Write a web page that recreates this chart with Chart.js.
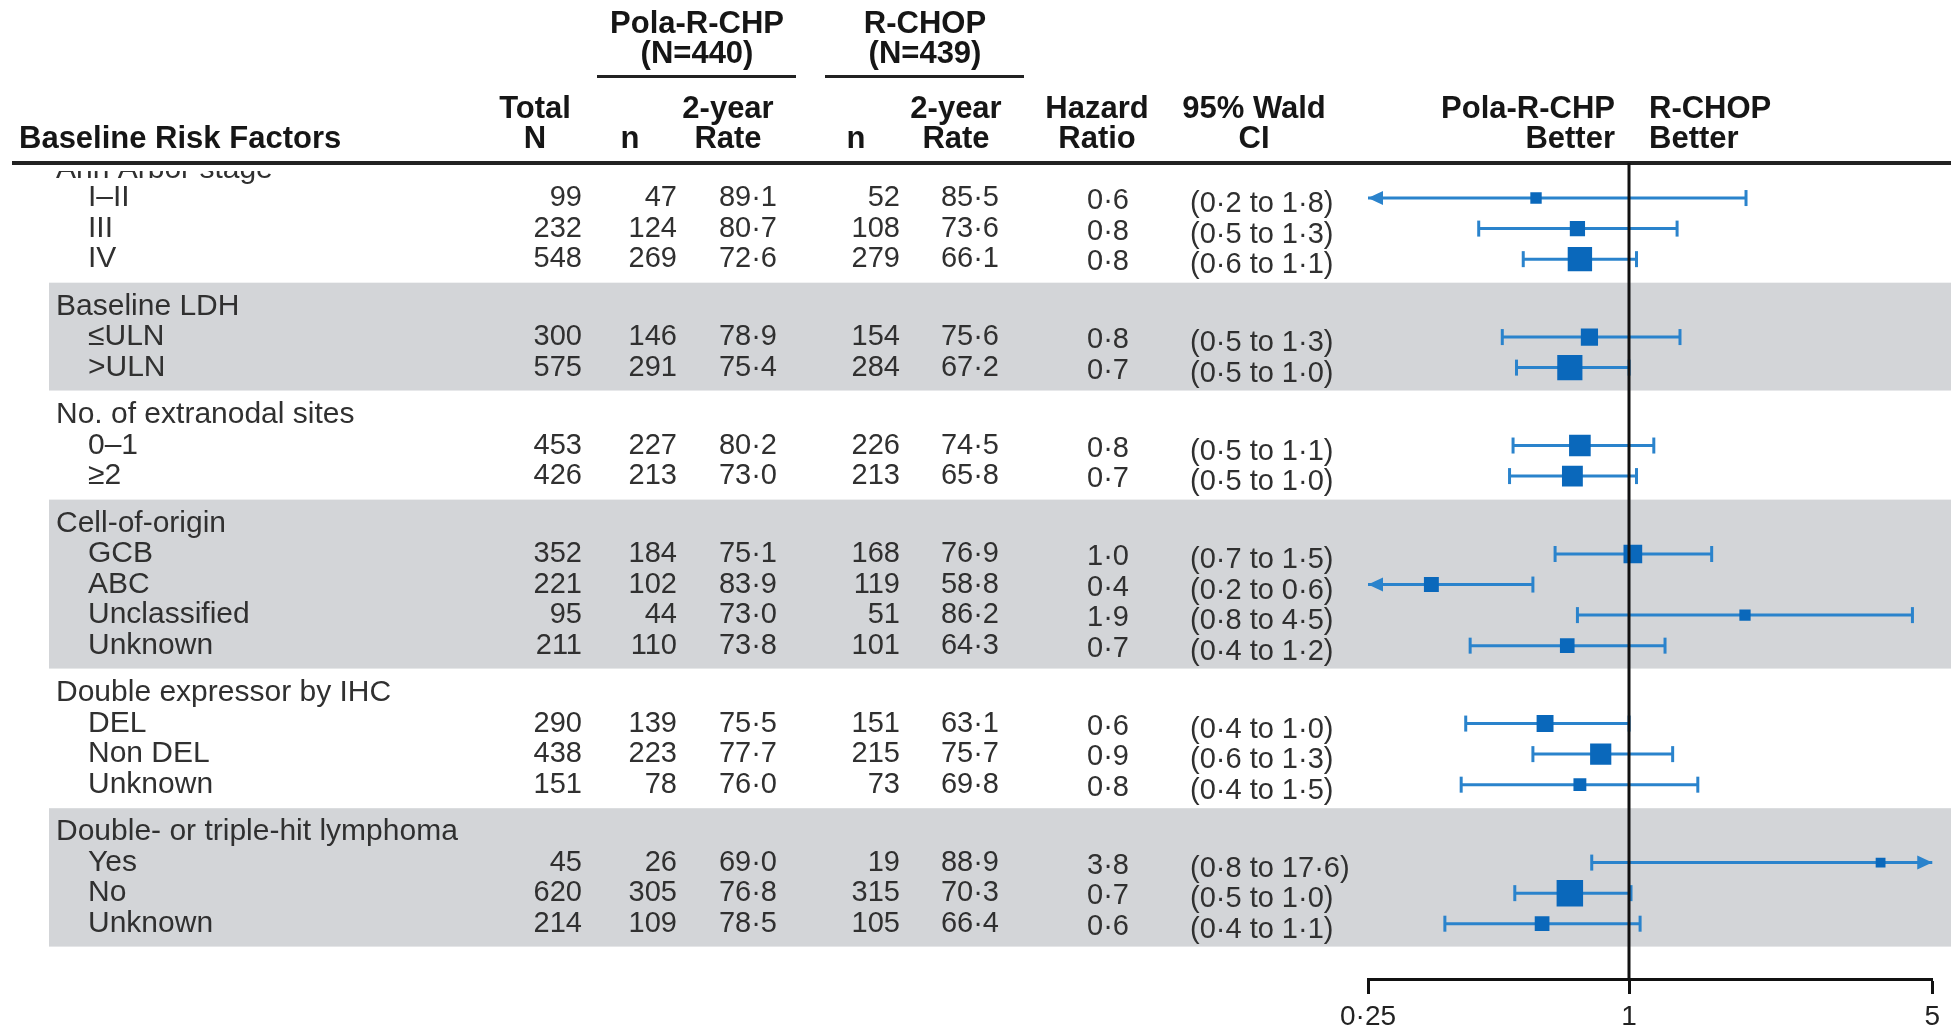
<!DOCTYPE html>
<html lang="en">
<head>
  <meta charset="UTF-8">
  <title>Forest plot – 2-year rate by baseline risk factors</title>
  <script src="https://cdn.jsdelivr.net/npm/chart.js"></script>
  <style>
    html, body { margin:0; padding:0; background:#fff; }
    #wrap { width:1951px; height:1029px; }
  </style>
</head>
<body>
<div id="wrap"><canvas id="forest" width="1951" height="1029"></canvas></div>

<script>
// ---- data ----
const groupNames = ['Ann Arbor stage', 'Baseline LDH', 'No. of extranodal sites', 'Cell-of-origin',
                    'Double expressor by IHC', 'Double- or triple-hit lymphoma'];
const groupSizes = [3, 2, 2, 4, 3, 3];
const rowLabels = ['I–II', 'III', 'IV', '≤ULN', '>ULN', '0–1', '≥2', 'GCB', 'ABC', 'Unclassified', 'Unknown',
                   'DEL', 'Non DEL', 'Unknown', 'Yes', 'No', 'Unknown'];
const totalN    = [99, 232, 548, 300, 575, 453, 426, 352, 221, 95, 211, 290, 438, 151, 45, 620, 214];
const polaN     = [47, 124, 269, 146, 291, 227, 213, 184, 102, 44, 110, 139, 223, 78, 26, 305, 109];
const polaRate  = [89.1, 80.7, 72.6, 78.9, 75.4, 80.2, 73.0, 75.1, 83.9, 73.0, 73.8, 75.5, 77.7, 76.0, 69.0, 76.8, 78.5];
const rchopN    = [52, 108, 279, 154, 284, 226, 213, 168, 119, 51, 101, 151, 215, 73, 19, 315, 105];
const rchopRate = [85.5, 73.6, 66.1, 75.6, 67.2, 74.5, 65.8, 76.9, 58.8, 86.2, 64.3, 63.1, 75.7, 69.8, 88.9, 70.3, 66.4];
// printed hazard ratio and CI
const hrShown   = [0.6, 0.8, 0.8, 0.8, 0.7, 0.8, 0.7, 1.0, 0.4, 1.9, 0.7, 0.6, 0.9, 0.8, 3.8, 0.7, 0.6];
const ciLoShown = [0.2, 0.5, 0.6, 0.5, 0.5, 0.5, 0.5, 0.7, 0.2, 0.8, 0.4, 0.4, 0.6, 0.4, 0.8, 0.5, 0.4];
const ciHiShown = [1.8, 1.3, 1.1, 1.3, 1.0, 1.1, 1.0, 1.5, 0.6, 4.5, 1.2, 1.0, 1.3, 1.5, 17.6, 1.0, 1.1];
// plotted hazard ratio and CI (as drawn)
const hr   = [0.61, 0.76, 0.77, 0.81, 0.73, 0.77, 0.74, 1.02, 0.35, 1.85, 0.72, 0.64, 0.86, 0.77, 3.8, 0.73, 0.63];
const ciLo = [0.2, 0.45, 0.57, 0.51, 0.55, 0.54, 0.53, 0.675, 0.2, 0.76, 0.43, 0.42, 0.6, 0.41, 0.82, 0.545, 0.376];
const ciHi = [1.86, 1.29, 1.04, 1.31, 1.0, 1.14, 1.04, 1.55, 0.6, 4.5, 1.21, 1.0, 1.26, 1.44, 17.6, 1.01, 1.06];
const xTicks = [0.25, 1, 5];

// ---- layout helpers ----
const GAP = 0.55;
const FONT = "'Liberation Sans', Arial, sans-serif";
const BLUE_LINE = '#2a83cc', BLUE_MARK = '#0a68bb', BAND = '#d3d5d8';
const fmt = v => v.toFixed(1).replace('.', '·');

// row positions (in row units) for group headers and data rows
const headerPos = [], rowPos = [], rowGroup = [];
let p = 0;
groupSizes.forEach((n, g) => {
  if (g > 0) p += 1 + GAP;
  headerPos.push(p);
  for (let j = 0; j < n; j++) { p += 1; rowPos.push(p); rowGroup.push(g); }
});

const tablePlugin = {
  id: 'table',
  beforeDraw(chart) {
    const ctx = chart.ctx, y = chart.scales.y;
    ctx.save();
    ctx.fillStyle = '#fff';
    ctx.fillRect(0, 0, chart.width, chart.height);
    // grey bands on every second group
    ctx.fillStyle = BAND;
    groupSizes.forEach((n, g) => {
      if (g % 2 === 0) return;
      const last = rowPos[rowGroup.indexOf(g) + n - 1];
      const top = y.getPixelForValue(headerPos[g] - 0.78), bot = y.getPixelForValue(last + 0.75);
      ctx.fillRect(49, top, chart.width - 49, bot - top);
    });
    ctx.restore();
  },
  beforeDatasetsDraw(chart) {
    const ctx = chart.ctx, x = chart.scales.x, y = chart.scales.y;
    ctx.save();
    // header text
    ctx.fillStyle = '#161616';
    ctx.textBaseline = 'middle';
    ctx.font = 'bold 31px ' + FONT;
    const hd = (t, px, py, al) => { ctx.textAlign = al || 'center'; ctx.fillText(t, px, py); };
    hd('Pola-R-CHP', 697, 24); hd('(N=440)', 697, 54);
    hd('R-CHOP', 925, 24); hd('(N=439)', 925, 54);
    hd('Total', 535, 109); hd('N', 535, 139);
    hd('n', 630, 139); hd('2-year', 728, 109); hd('Rate', 728, 139);
    hd('n', 856, 139); hd('2-year', 956, 109); hd('Rate', 956, 139);
    hd('Hazard', 1097, 109); hd('Ratio', 1097, 139);
    hd('95% Wald', 1254, 109); hd('CI', 1254, 139);
    hd('Pola-R-CHP', 1615, 109, 'right'); hd('Better', 1615, 139, 'right');
    hd('R-CHOP', 1649, 109, 'left'); hd('Better', 1649, 139, 'left');
    hd('Baseline Risk Factors', 19, 139, 'left');
    ctx.fillStyle = '#222';
    ctx.fillRect(597, 75, 199, 3);
    ctx.fillRect(825, 75, 199, 3);
    ctx.fillRect(12, 161, chart.width - 12, 4);

    // body text
    ctx.fillStyle = '#303030';
    ctx.font = '30px ' + FONT;
    groupNames.forEach((t, g) => {
      const py = y.getPixelForValue(headerPos[g]);
      ctx.save();
      ctx.beginPath(); ctx.rect(0, 171, chart.width, chart.height); ctx.clip();
      ctx.textAlign = 'left'; ctx.fillText(t, 56, g === 0 ? py + 2 : py);
      ctx.restore();
    });
    rowLabels.forEach((t, i) => {
      const py = y.getPixelForValue(rowPos[i]);
      ctx.font = '30px ' + FONT;
      ctx.textAlign = 'left'; ctx.fillText(t, 88, py);
      ctx.font = '29px ' + FONT;
      ctx.textAlign = 'right';
      ctx.fillText(String(totalN[i]), 582, py);
      ctx.fillText(String(polaN[i]), 677, py);
      ctx.fillText(fmt(polaRate[i]), 777, py);
      ctx.fillText(String(rchopN[i]), 900, py);
      ctx.fillText(fmt(rchopRate[i]), 999, py);
      ctx.textAlign = 'center';
      ctx.fillText(fmt(hrShown[i]), 1108, py + 3);
      ctx.textAlign = 'left';
      ctx.fillText('(' + fmt(ciLoShown[i]) + ' to ' + fmt(ciHiShown[i]) + ')', 1190, py + 6);
    });

    // confidence interval whiskers
    const xmin = x.min, xmax = x.max;
    ctx.strokeStyle = BLUE_LINE; ctx.fillStyle = BLUE_LINE; ctx.lineWidth = 3;
    rowPos.forEach((rp, i) => {
      const py = y.getPixelForValue(rp);
      const x1 = x.getPixelForValue(Math.max(ciLo[i], xmin));
      const x2 = x.getPixelForValue(Math.min(ciHi[i], xmax));
      ctx.beginPath(); ctx.moveTo(x1, py); ctx.lineTo(x2, py); ctx.stroke();
      if (ciLo[i] < xmin) {
        ctx.beginPath(); ctx.moveTo(x1, py); ctx.lineTo(x1 + 15, py - 7); ctx.lineTo(x1 + 15, py + 7); ctx.fill();
      } else {
        ctx.beginPath(); ctx.moveTo(x1, py - 8); ctx.lineTo(x1, py + 8); ctx.stroke();
      }
      if (ciHi[i] > xmax) {
        ctx.beginPath(); ctx.moveTo(x2, py); ctx.lineTo(x2 - 15, py - 7); ctx.lineTo(x2 - 15, py + 7); ctx.fill();
      } else {
        ctx.beginPath(); ctx.moveTo(x2, py - 8); ctx.lineTo(x2, py + 8); ctx.stroke();
      }
    });
    ctx.restore();
  },
  afterDatasetsDraw(chart) {
    const ctx = chart.ctx, x = chart.scales.x;
    const px = Math.round(x.getPixelForValue(1));
    ctx.save();
    ctx.strokeStyle = '#111'; ctx.lineWidth = 3;
    ctx.beginPath(); ctx.moveTo(px, 163); ctx.lineTo(px, chart.chartArea.bottom); ctx.stroke();
    ctx.restore();
  }
};

new Chart(document.getElementById('forest'), {
  type: 'scatter',
  data: {
    datasets: [{
      data: rowPos.map((rp, i) => ({ x: hr[i], y: rp })),
      pointStyle: 'rect',
      pointRadius: ctx => (8.5 + totalN[ctx.dataIndex] * 0.029) / Math.SQRT2,
      pointHoverRadius: ctx => (8.5 + totalN[ctx.dataIndex] * 0.029) / Math.SQRT2,
      backgroundColor: BLUE_MARK,
      borderColor: BLUE_MARK,
      borderWidth: 0
    }]
  },
  options: {
    responsive: false,
    animation: false,
    devicePixelRatio: 1,
    layout: { padding: { top: 163, left: 1368, right: 11, bottom: 0 } },
    plugins: { legend: { display: false }, tooltip: { enabled: false } },
    scales: {
      x: {
        type: 'logarithmic',
        min: 0.25, max: 5,
        afterBuildTicks: s => { s.ticks = xTicks.map(v => ({ value: v })); },
        afterFit: s => { s.height = 50; },
        ticks: {
          autoSkip: false, maxRotation: 0, padding: 6,
          color: '#222', font: { family: FONT, size: 28 },
          callback: v => String(v).replace('.', '·')
        },
        grid: { drawOnChartArea: false, drawTicks: true, tickLength: 15, tickWidth: 3, tickColor: '#111' },
        border: { display: true, color: '#111', width: 3 }
      },
      y: {
        type: 'linear', display: false, reverse: true,
        min: -0.147, max: 26.56
      }
    }
  },
  plugins: [tablePlugin]
});
</script>
</body>
</html>
